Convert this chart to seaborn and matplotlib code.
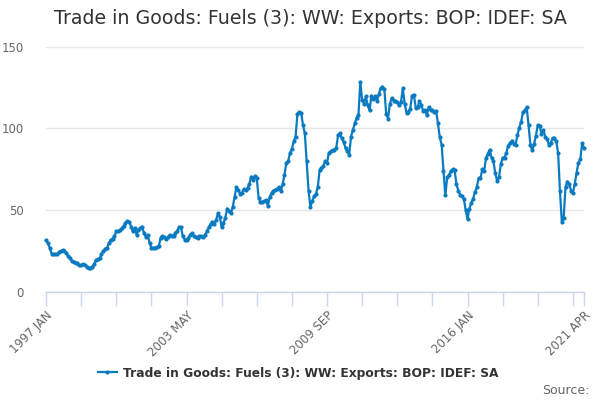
import numpy as np
import pandas as pd
import matplotlib
matplotlib.use("Agg")
import matplotlib.pyplot as plt
import seaborn as sns

# Monthly values, 1997 JAN .. 2021 APR
valores = [
    31.5, 30, 27, 23.5, 23, 23, 23, 24.5, 25, 25.5, 25, 24,
    22, 20.5, 19, 18.5, 18, 17.5, 16.5, 16.5, 17, 16.5, 15.5, 14.5,
    14.5, 15.5, 17, 19.5, 20, 20.5, 23, 25, 26.5, 27, 30, 32,
    32.5, 34, 37, 37, 38, 39, 40.5, 42, 43.5, 43, 40, 37,
    39, 35, 38, 39, 40, 36, 33.5, 35, 30, 27, 27, 27,
    27.5, 28, 33, 34, 33.5, 32.5, 33.5, 35, 34, 34.5, 36, 37.5,
    39.5, 39.5, 34, 32, 32, 33, 35, 36, 34, 33.5, 33, 34,
    34, 33.5, 35, 37, 39.5, 41.5, 43, 41.5, 44, 48, 46, 39.5,
    42, 45.5, 51, 49.5, 48, 52, 58, 64, 62.5, 60, 60.5, 63,
    62.5, 63.5, 66, 70.5, 68.5, 71, 69.5, 57.5, 55, 55, 55.5, 56,
    52.5, 58, 60.5, 61.5, 62.5, 63, 64, 61.5, 66, 71.5, 79, 80,
    85, 87.5, 92, 95, 109, 110, 109.5, 102, 97, 80, 62, 52,
    55.5, 58.5, 60, 64, 74.5, 76, 77, 80, 79, 85, 86, 86.5,
    87, 88, 96, 97, 94, 91.5, 88, 86, 84, 95, 99, 103,
    106.5, 108, 128.5, 117.5, 115, 119.5, 114, 111, 120, 118, 119.5, 116.5,
    121, 124.5, 125.5, 124, 109, 106, 115, 118.5, 117, 117, 116, 114,
    116, 124.5, 115, 109.5, 110, 112, 120, 120.5, 112.5, 113, 116.5, 114.5,
    110.5, 111, 108, 113, 111, 111, 110, 110.5, 103, 94.5, 90, 74,
    59, 70, 71.5, 74, 75, 74.5, 66, 62, 59.5, 58.5, 57, 50,
    44.5, 51, 54.3, 57, 61, 64, 69.5, 69.5, 75, 74, 82, 84.5,
    87, 82, 80, 72.5, 68, 70, 78, 82, 82, 85, 89.5, 91,
    92.5, 90.5, 90, 96, 100.5, 104, 110, 111, 113, 102, 90, 86.5,
    90.5, 95.5, 102, 101.5, 96.5, 99, 95, 93.5, 90, 91, 94, 94,
    92, 85, 61.5, 43, 45.5, 64, 67.5, 66, 62, 60.5, 66, 73,
    79, 81, 91, 88,
]
meses = pd.date_range("1997-01-01", periods=len(valores), freq="MS")
rotulos = [d.strftime("%Y %b").upper() for d in meses]

serie = "Trade in Goods: Fuels (3): WW: Exports: BOP: IDEF: SA"
titulo = "Trade in Goods: Fuels (3): WW: Exports: BOP: IDEF: SA"

df = pd.DataFrame({"idx": np.arange(len(valores)), "valor": valores})

cor = "#0b7bc1"

fig = plt.figure(figsize=(6, 4), dpi=100)
ax = fig.add_axes([46 / 600, 108 / 400, 538 / 600, 245.5 / 400])

sns.lineplot(data=df, x="idx", y="valor", ax=ax, color=cor, linewidth=1.6,
             marker="o", markersize=3, markeredgewidth=0, label=serie,
             clip_on=False)

ax.set_xlim(0, len(valores) - 1)
ax.set_ylim(0, 150)
ax.set_yticks([0, 50, 100, 150])
ax.grid(axis="y", color="#e6e6e6", linewidth=1)
ax.set_axisbelow(True)
for s in ["top", "right", "left"]:
    ax.spines[s].set_visible(False)
ax.spines["bottom"].set_color("#ccd6eb")
ax.spines["bottom"].set_linewidth(1)

# ticks every 19 months, labels every 4th tick plus the last month
ticks = list(range(0, len(valores), 19)) + [len(valores) - 1]
ax.set_xticks(ticks)
lab = [rotulos[t] if (t % 76 == 0 or t == len(valores) - 1) else "" for t in ticks]
ax.set_xticklabels(lab, rotation=45, ha="right", rotation_mode="anchor")
ax.tick_params(axis="x", length=10, color="#ccd6eb", width=1, labelsize=8.5,
               labelcolor="#666666", pad=2)
ax.tick_params(axis="y", length=0, labelsize=8.5, labelcolor="#666666", pad=16)
ax.set_xlabel("")
ax.set_ylabel("")

fig.text(0.517, 0.955, titulo, ha="center", va="center", fontsize=13.7, color="#333333")

ax.legend(loc="center", bbox_to_anchor=(0.497, 0.0675), bbox_transform=fig.transFigure,
          frameon=False, handlelength=1.6, handletextpad=0.5,
          prop={"weight": "bold", "size": 8.8}, labelcolor="#333333")
fig.text(0.982, 0.025, "Source:", ha="right", va="center", fontsize=9, color="#666666")

fig.savefig("out.png", dpi=100)
